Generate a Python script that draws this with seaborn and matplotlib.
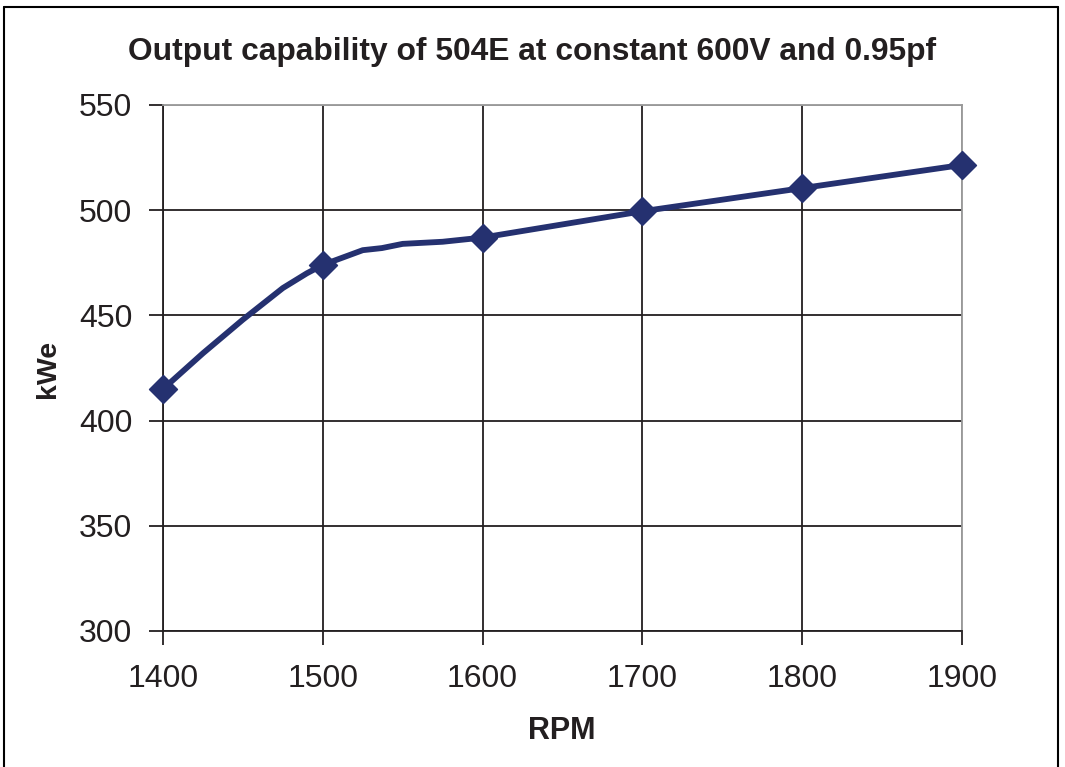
import numpy as np
import pandas as pd
import seaborn as sns
import matplotlib.pyplot as plt
from matplotlib.lines import Line2D

# measured points (markers)
rpm = [1400, 1500, 1600, 1700, 1800, 1900]
kwe = [415, 474, 487, 499.5, 510.5, 521.5]

# the drawn curve passes through a few extra readings between markers
rpm_curve = [1400, 1425, 1450, 1475, 1490, 1500, 1525, 1537, 1550, 1575, 1600, 1700, 1800, 1900]
kwe_curve = [415, 432, 448, 463, 470, 474, 481, 482, 484, 485, 487, 499.5, 510.5, 521.5]

x_ticks = [1400, 1500, 1600, 1700, 1800, 1900]
y_ticks = [300, 350, 400, 450, 500, 550]

sns.set_theme(style="white")
plt.rcParams['font.family'] = ['Liberation Sans', 'DejaVu Sans']

navy = "#253170"
ink = "#231f20"

fig = plt.figure(figsize=(10.65, 7.67), dpi=100)
ax = fig.add_axes([163/1065, 136/767, 799/1065, 526/767])

sns.lineplot(x=rpm_curve, y=kwe_curve, ax=ax, color=navy, linewidth=4.2, zorder=3,
             solid_joinstyle='round', solid_capstyle='round')
sns.scatterplot(x=rpm, y=kwe, ax=ax, color=navy, marker='D', s=200, edgecolor=navy,
                zorder=4, clip_on=False)

ax.set_xlim(1400, 1900)
ax.set_ylim(300, 550)
ax.set_xticks(x_ticks)
ax.set_yticks(y_ticks)
ax.grid(True, color=ink, linewidth=1.3)
ax.set_axisbelow(True)
# outer gridlines at the top and right are lighter, as in the original
ax.get_ygridlines()[-1].set_color("#999999")
ax.get_xgridlines()[-1].set_color("#999999")
for s in ax.spines.values():
    s.set_color(ink)
    s.set_linewidth(1.3)
ax.spines['top'].set_color("#999999")
ax.spines['right'].set_color("#999999")
ax.tick_params(axis='both', which='major', labelsize=23, length=10, width=1.3,
               color=ink, labelcolor=ink, direction='out', bottom=True, left=True)
ax.tick_params(axis='y', pad=12)
ax.tick_params(axis='x', pad=14)
ax.set_xlabel("")
ax.set_ylabel("")

fig.text(0.5, 1 - 52/767, "Output capability of 504E at constant 600V and 0.95pf",
         ha='center', va='center', fontsize=22.9, fontweight='bold', color=ink)
fig.text(562/1065, 1 - 731/767, "RPM", ha='center', va='center', fontsize=22,
         fontweight='bold', color=ink)
fig.text(48/1065, 1 - 369/767, "kWe", ha='center', va='center', fontsize=20.5,
         fontweight='bold', rotation=90, color=ink)

# outer frame of the chart
fig.add_artist(Line2D([4/1065, 4/1065], [0, 1 - 7/767], color='black', linewidth=1.5))
fig.add_artist(Line2D([4/1065, 1058/1065], [1 - 7/767, 1 - 7/767], color='black', linewidth=1.5))
fig.add_artist(Line2D([1058/1065, 1058/1065], [0, 1 - 7/767], color='black', linewidth=1.5))

fig.savefig("out.png", dpi=100)
